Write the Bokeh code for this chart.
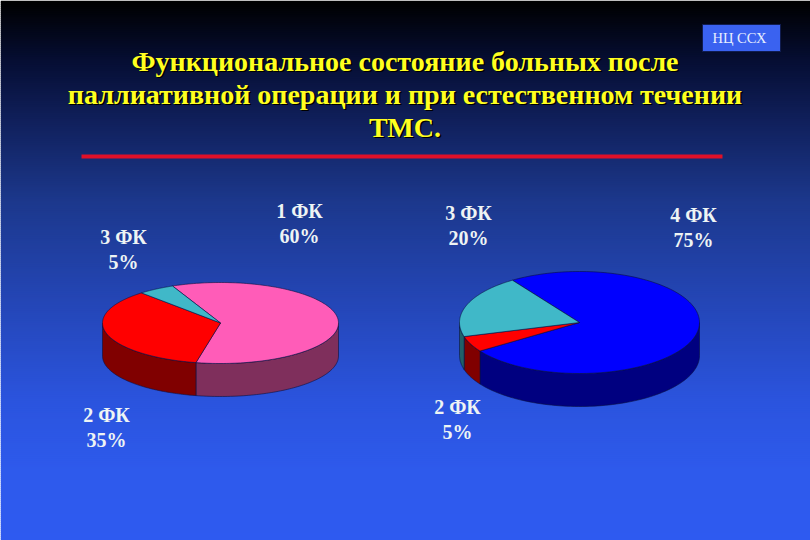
import numpy as np
from bokeh.plotting import figure
from bokeh.models import Range1d
from bokeh.embed import file_html
from bokeh.resources import INLINE
from bokeh.core.properties import value

# --- data ---
title_lines = ["Функциональное состояние больных после",
               "паллиативной операции и при естественном течении",
               "ТМС."]
badge = "НЦ ССХ"
left_names = ["1 ФК", "2 ФК", "3 ФК"]
left_shares = [60, 35, 5]
right_names = ["4 ФК", "2 ФК", "3 ФК"]
right_shares = [75, 5, 20]

# --- styles and layout (page pixels of the 810x540 picture) ---
FONT = value("Liberation Serif")
top_colors = {"1 ФК": "#ff5cb8", "2 ФК": "#ff0000", "3 ФК": "#40b8c8", "4 ФК": "#0000ff"}
side_colors = {"1 ФК": "#7f2f5c", "2 ФК": "#800000", "3 ФК": "#206068", "4 ФК": "#000080"}
left_pie = dict(cx=220, cy=322.5, rx=118, ry=40.5, depth=33, start=336)
right_pie = dict(cx=579, cy=322, rx=120, ry=51, depth=33, start=326)
left_label_pos = [(299, 199), (106, 403), (123, 225)]
right_label_pos = [(693, 203), (457, 395), (468, 201)]

p = figure(width=810, height=540, output_backend="svg", toolbar_location=None,
           x_range=Range1d(0, 810), y_range=Range1d(540, 0),
           x_axis_type=None, y_axis_type=None, min_border=0,
           outline_line_color=None, background_fill_color=None,
           border_fill_color="#000000")
p.grid.visible = False

# vertical background gradient
stops_y = [0, 60, 120, 200, 300, 400, 470, 540]
stops_c = [(0, 0, 0), (6, 14, 52), (16, 32, 92), (28, 56, 140), (36, 70, 182),
           (43, 84, 222), (46, 90, 236), (46, 90, 240)]
ys = np.arange(0, 540, 2)
cols = ["#%02x%02x%02x" % tuple(int(round(np.interp(y, stops_y, [c[i] for c in stops_c]))) for i in range(3))
        for y in ys]
p.quad(left=0, right=810, top=ys, bottom=ys + 2.5, fill_color=cols, line_color=None)


def draw_pie(names, shares, g):
    starts = g["start"] + np.concatenate([[0], np.cumsum(shares)[:-1]]) * 3.6
    ends = starts + np.array(shares) * 3.6
    px = lambda t: g["cx"] + g["rx"] * np.sin(np.radians(t))
    py = lambda t: g["cy"] - g["ry"] * np.cos(np.radians(t))
    sx, sy, sc, tx, ty, tc = [], [], [], [], [], []
    for n, a, b in zip(names, starts, ends):
        for k in (0, 360):
            lo, hi = max(a - k, 90), min(b - k, 270)
            if hi > lo:
                t = np.linspace(lo, hi, 80)
                sx.append(np.concatenate([px(t), px(t[::-1])]))
                sy.append(np.concatenate([py(t), py(t[::-1]) + g["depth"]]))
                sc.append(side_colors[n])
        t = np.linspace(a, b, 160)
        tx.append(np.concatenate([[g["cx"]], px(t)]))
        ty.append(np.concatenate([[g["cy"]], py(t)]))
        tc.append(top_colors[n])
    p.patches(sx, sy, fill_color=sc, line_color="#0a1040", line_width=0.6)
    p.patches(tx, ty, fill_color=tc, line_color="#0a1040", line_width=0.6)


def draw_labels(names, shares, pos):
    for n, s, (x, y) in zip(names, shares, pos):
        for txt, yy in ((n, y), (f"{s}%", y + 25.5)):
            p.text([x], [yy], text=[txt], text_font=FONT, text_font_size="20px",
                   text_font_style="bold", text_color="#eef4f4", text_align="center",
                   text_baseline="top")


draw_pie(left_names, left_shares, left_pie)
draw_pie(right_names, right_shares, right_pie)
draw_labels(left_names, left_shares, left_label_pos)
draw_labels(right_names, right_shares, right_label_pos)

# title with its dark shadow
for line, y in zip(title_lines, [60.5, 93.5, 126.5]):
    p.text([406], [y + 1.5], text=[line], text_font=FONT, text_font_size="28px", text_font_style="bold",
           text_color="#000000", text_align="center", text_baseline="middle")
    p.text([404.5], [y], text=[line], text_font=FONT, text_font_size="28px", text_font_style="bold",
           text_color="#ffff20", text_align="center", text_baseline="middle")

# rule below the title
p.quad(left=[81], right=[722], top=[154], bottom=[158], fill_color="#e01028", line_color=None)

# badge
p.quad(left=[702], right=[780], top=[24], bottom=[51], fill_color="#3a62f0", line_color="#101c50", line_width=1)
p.text([739], [37.5], text=[badge], text_font=FONT, text_font_size="14.5px", text_color="#e8f0ff",
       text_align="center", text_baseline="middle")

open("out.html", "w").write(file_html(p, INLINE))
